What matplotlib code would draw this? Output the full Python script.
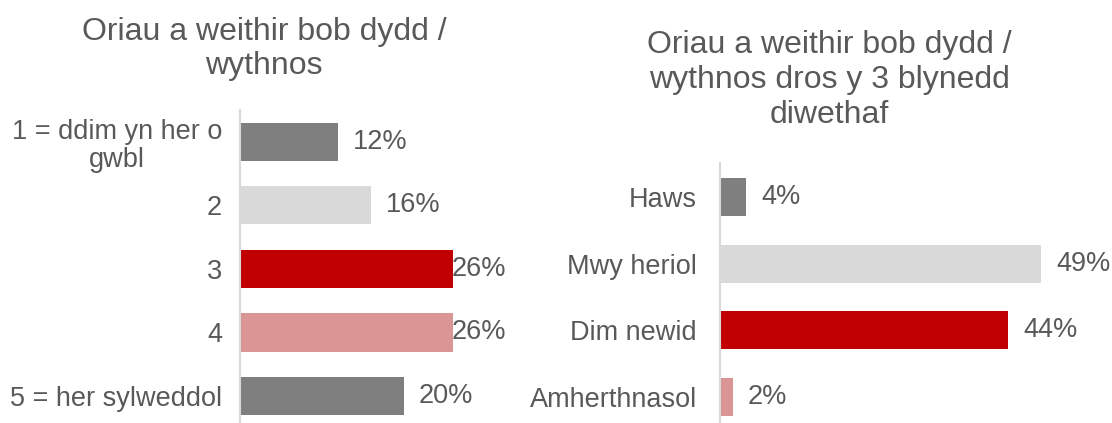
import matplotlib
matplotlib.use("Agg")
import matplotlib.pyplot as plt
from matplotlib.transforms import ScaledTranslation

plt.rcParams['font.family'] = ['Liberation Sans', 'DejaVu Sans']

# ---- data ----
left_title = "Oriau a weithir bob dydd /\nwythnos"
left_cats = ["1 = ddim yn her o\ngwbl", "2", "3", "4", "5 = her sylweddol"]
left_vals = [12, 16, 26, 26, 20]
left_colors = ["#7f7f7f", "#d9d9d9", "#c00000", "#d99694", "#7f7f7f"]

right_title = "Oriau a weithir bob dydd /\nwythnos dros y 3 blynedd\ndiwethaf"
right_cats = ["Haws", "Mwy heriol", "Dim newid", "Amherthnasol"]
right_vals = [4, 49, 44, 2]
right_colors = ["#7f7f7f", "#d9d9d9", "#c00000", "#d99694"]

W, H = 1112, 423
DPI = 100
fig = plt.figure(figsize=(W / DPI, H / DPI), dpi=DPI)
TXT = "#595959"
AX = "#d9d9d9"
FS = 19.5


def panel(rect, cats, vals, colors, xmax, ylim, bar_h, pad_px):
    l, b, w, h = rect
    ax = fig.add_axes([l / W, b / H, w / W, h / H])
    ys = list(range(len(cats)))
    ax.barh(ys, vals, height=bar_h, color=colors, edgecolor='none')
    ax.set_xlim(0, xmax)
    ax.set_ylim(*ylim)
    for s in ['top', 'right', 'bottom']:
        ax.spines[s].set_visible(False)
    ax.spines['left'].set_color(AX)
    ax.spines['left'].set_linewidth(1.5)
    ax.set_xticks([])
    ax.set_yticks(ys)
    ax.set_yticklabels(cats, fontsize=FS, color=TXT, multialignment='center',
                       linespacing=1.1)
    ax.tick_params(axis='y', length=0, pad=pad_px * 0.72)
    # value labels, kept inside the plot area like the original
    fig.canvas.draw()
    r = fig.canvas.get_renderer()
    ax_right_px = ax.transAxes.transform((1, 0))[0]
    for y, v in zip(ys, vals):
        t = ax.text(v, y, f"{v}%", fontsize=FS, color=TXT, va='center', ha='left')
        t.set_transform(ax.transData + ScaledTranslation(15 / DPI, 0, fig.dpi_scale_trans))
        bb = t.get_window_extent(r)
        if bb.x1 > ax_right_px:
            shift = bb.x1 - ax_right_px
            t.set_transform(ax.transData + ScaledTranslation((15 - shift) / DPI, 0, fig.dpi_scale_trans))
    return ax


# left panel: axis at x=240, 8.19 px per %, bar centres 142 + 63.5*i
lx_scale = 8.19
panel((240, 0, 266, 313), left_cats, left_vals, left_colors,
      266 / lx_scale, (4.425, -0.5), 0.6, 18)

# right panel: axis at x=720, 6.55 px per %, bar centres 197 + 66.7*i
panel((720, 0, 420, 260), right_cats, right_vals, right_colors,
      420 / 6.55, (3.39, -0.51), 0.57, 23)

fig.text(264 / W, 1 - 49 / H, left_title, fontsize=23, color=TXT,
         ha='center', va='center', linespacing=1.2)
fig.text(829 / W, 1 - 80 / H, right_title, fontsize=23, color=TXT,
         ha='center', va='center', linespacing=1.2)

fig.savefig("out.png", dpi=DPI, facecolor='white')
